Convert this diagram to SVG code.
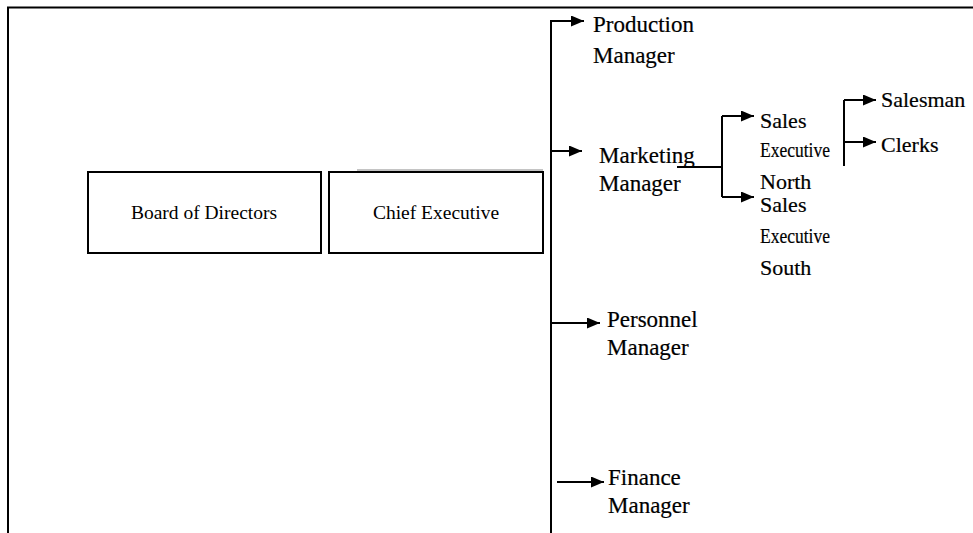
<svg xmlns="http://www.w3.org/2000/svg" width="973" height="533" viewBox="0 0 973 533">
<defs>
<marker id="ah" viewBox="0 0 13 11" refX="13" refY="5.5" markerWidth="13" markerHeight="11" markerUnits="userSpaceOnUse" orient="auto">
<path d="M0,0 L13,5.5 L0,11 Z" fill="#000"/>
</marker>
<style>
.box{fill:#fff;stroke:#000;stroke-width:2}
.bt{font-family:'Liberation Serif','Times New Roman',serif;font-size:19.5px;fill:#000;text-anchor:middle}
.lb{font-family:'Liberation Serif','Times New Roman',serif;font-size:23px;fill:#000;stroke:#000;stroke-width:0.2}
.sm{font-family:'Liberation Serif','Times New Roman',serif;font-size:22px;fill:#000;stroke:#000;stroke-width:0.2}
.ln{fill:none;stroke:#000;stroke-width:2}
.ar{fill:none;stroke:#000;stroke-width:2;marker-end:url(#ah)}
</style>
</defs>
<rect width="973" height="533" fill="#fff"/>
<g id="frame">
<path d="M8,533 V7.5 H973" fill="none" stroke="#000" stroke-width="2"/>
</g>
<g id="connectors">
<path d="M551,21 V533" fill="none" stroke="#000" stroke-width="2"/>
<path d="M357,170 H543" fill="none" stroke="#888" stroke-width="1"/>
<path class="ar" d="M550,21 H584"/>
<path class="ar" d="M551,151 H582"/>
<path class="ar" d="M552,323 H600"/>
<path class="ar" d="M557,482 H604"/>
<path class="ln" d="M677,167 H722"/>
<path class="ln" d="M722,116 V197"/>
<path class="ar" d="M722,116 H754"/>
<path class="ar" d="M722,197 H754"/>
<path class="ln" d="M844,100 V166"/>
<path class="ar" d="M844,100 H876"/>
<path class="ar" d="M844,142 H876"/>
</g>
<g id="board">
<rect class="box" x="88" y="172" width="233" height="81"/>
<text class="bt" x="204" y="219">Board of Directors</text>
</g>
<g id="chief">
<rect class="box" x="329" y="172" width="214" height="81"/>
<text class="bt" x="436" y="219">Chief Executive</text>
</g>
<g id="production">
<text class="lb" x="593" y="32">Production</text>
<text class="lb" x="593" y="63">Manager</text>
</g>
<g id="marketing">
<text class="lb" x="599" y="163">Marketing</text>
<text class="lb" x="599" y="191">Manager</text>
</g>
<g id="personnel">
<text class="lb" x="607" y="327">Personnel</text>
<text class="lb" x="607" y="355">Manager</text>
</g>
<g id="finance">
<text class="lb" x="608" y="485">Finance</text>
<text class="lb" x="608" y="513">Manager</text>
</g>
<g id="sales-north">
<text class="sm" x="760" y="128">Sales</text>
<text class="sm" x="760" y="157" textLength="70" lengthAdjust="spacingAndGlyphs">Executive</text>
<text class="sm" x="760" y="189">North</text>
</g>
<g id="sales-south">
<text class="sm" x="760" y="212">Sales</text>
<text class="sm" x="760" y="243" textLength="70" lengthAdjust="spacingAndGlyphs">Executive</text>
<text class="sm" x="760" y="275">South</text>
</g>
<g id="salesman">
<text class="sm" x="881" y="107">Salesman</text>
</g>
<g id="clerks">
<text class="sm" x="881" y="152">Clerks</text>
</g>
</svg>
